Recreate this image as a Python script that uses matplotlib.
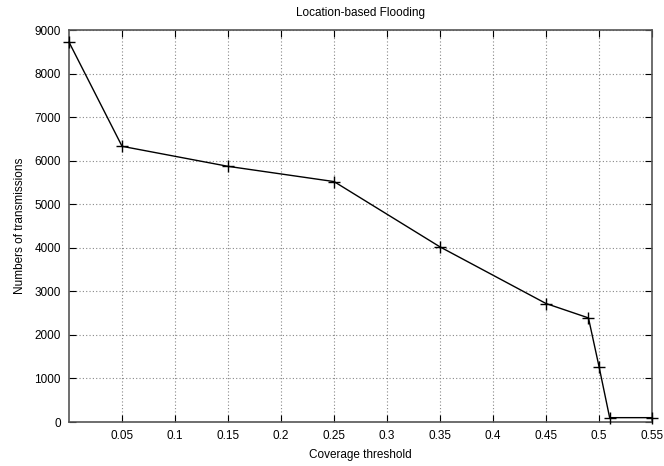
import matplotlib
matplotlib.use('Agg')
import matplotlib.pyplot as plt
import numpy as np

# ------------------------- Data ---------------------------
threshold = [0.0, 0.05, 0.15, 0.25, 0.35, 0.45, 0.49, 0.50, 0.51, 0.55]
transmissions = [8720, 6330, 5870, 5520, 4020, 2720, 2390, 1270, 100, 100]
x_ticks = [0.05, 0.1, 0.15, 0.2, 0.25, 0.3, 0.35, 0.4, 0.45, 0.5, 0.55]
x_ticklabels = ['0.05', '0.1', '0.15', '0.2', '0.25', '0.3', '0.35', '0.4', '0.45', '0.5', '0.55']
y_ticks = [0, 1000, 2000, 3000, 4000, 5000, 6000, 7000, 8000, 9000]
# ----------------------------------------------------------

plt.rcParams['font.family'] = ['Liberation Sans', 'DejaVu Sans']

fig = plt.figure(figsize=(6.64, 4.66), dpi=100)
ax = fig.add_axes([0.104, 0.0944, 0.878, 0.8412])

ax.plot(threshold, transmissions, color='black', linewidth=1.0,
        marker='+', markersize=8, markeredgewidth=1.0, clip_on=False, zorder=3)

ax.set_xlim(0, 0.55)
ax.set_ylim(0, 9000)
ax.set_xticks(x_ticks)
ax.set_xticklabels(x_ticklabels)
ax.set_yticks(y_ticks)

ax.grid(True, color='#888888', linestyle=(0, (1, 2)), linewidth=0.8)
ax.tick_params(direction='in', length=5, width=0.8, top=True, right=True,
               labelsize=8.5, colors='black', pad=6)
for sp in ax.spines.values():
    sp.set_color('#555555')
    sp.set_linewidth(1.2)

ax.set_title('Location-based Flooding', fontsize=8.5, pad=10)
ax.set_xlabel('Coverage threshold', fontsize=8.5, labelpad=5)
ax.set_ylabel('Numbers of transmissions', fontsize=8.5, labelpad=6)

plt.savefig('out.png', dpi=100)
plt.close()
